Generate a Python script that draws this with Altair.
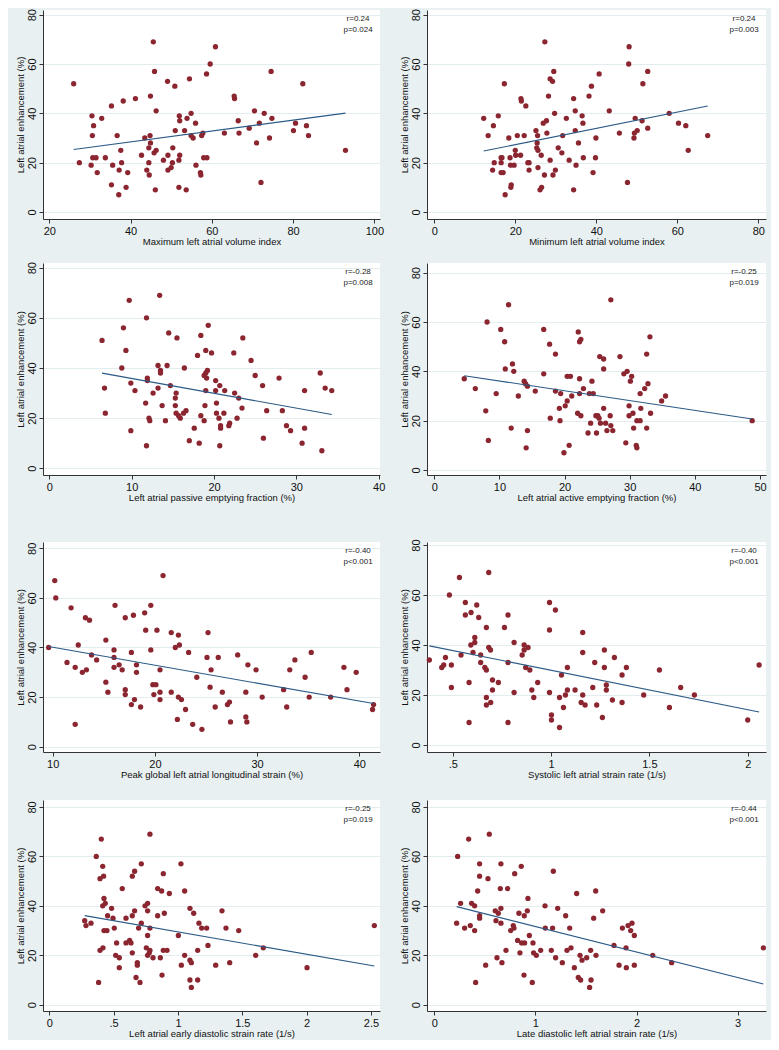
import altair as alt
import pandas as pd

# ---------------- data ----------------
x1 = [26.0,27.4,30.3,30.5,30.6,30.9,30.7,31.5,31.8,32.9,
      33.8,35.3,35.3,35.6,36.7,37.1,37.2,37.6,37.8,38.2,
      38.9,39.3,41.2,42.7,43.5,44.0,44.5,44.6,44.5,44.8,
      44.9,44.9,45.6,45.9,45.8,46.3,46.3,46.1,48.1,49.1,
      49.2,49.2,50.0,50.4,50.3,50.9,51.0,51.9,51.9,52.0,
      52.1,52.1,53.3,53.7,53.9,54.5,54.9,54.9,55.4,56.0,
      56.1,57.2,57.3,57.5,57.8,58.0,58.8,58.7,59.6,60.9,
      63.1,65.5,65.6,66.5,66.7,69.2,70.5,71.0,71.7,72.1,
      72.9,74.2,74.6,74.8,80.1,80.6,82.4,83.3,83.8,92.9]
y1 = [52,20,19,39,31,35,22,22,16,38, 22,43,11,19,31,7,17,25,20,45,
      10,16,46,23,30,17,20,15,26,31, 28,47,69,57,24,25,41,9,21,53,
      23,17,18,26,20,51,33,10,21,39, 37,23,33,9,38,54,40,31,30,36,
      19,16,15,31,32,22,22,56,60,67, 32,47,46,37,32,34,41,28,36,12,
      40,30,57,38,33,36,52,35,31,25]

x2 = [12.2,13.3,14.6,14.8,14.4,15.8,16.5,16.7,16.5,16.5,
      17.0,17.3,17.5,18.4,18.7,18.8,19.0,18.9,19.7,20.0,
      20.1,20.5,21.3,21.4,21.5,22.2,22.6,23.1,23.4,23.4,
      25.1,25.3,25.5,25.4,25.6,25.6,26.1,26.4,26.5,26.9,
      27.3,27.2,27.7,27.8,28.2,28.6,28.6,29.2,29.3,29.5,
      29.7,29.9,30.6,31.5,31.7,32.6,33.3,34.4,34.4,34.8,
      34.8,35.0,35.6,36.5,36.7,36.8,38.2,38.8,39.2,39.9,
      39.8,40.7,43.2,45.7,47.7,48.0,48.1,49.3,49.4,49.6,
      50.1,51.3,51.5,52.7,52.7,58.0,60.3,62.1,62.7,67.5]
y2 = [38,31,35,20,17,39,22,22,20,16, 16,52,7,30,22,19,11,10,19,25,
      23,31,23,46,45,31,43,20,20,17, 33,26,31,28,25,18,9,23,10,36,
      69,15,37,32,47,21,54,53,15,57, 40,17,26,24,31,38,21,9,46,41,
      33,19,28,39,36,22,47,51,16,30, 22,56,41,32,12,60,67,30,32,38,
      33,37,52,57,34,40,36,35,25,31]

x3 = [6.4,6.7,6.8,8.8,9.0,9.3,9.7,9.9,9.9,10.4,
      11.7,11.8,11.8,11.9,11.9,12.1,12.2,12.6,13.2,13.2,
      13.4,13.5,13.5,13.7,14.1,14.3,14.5,14.7,15.3,15.3,
      15.4,15.4,15.5,15.7,15.9,16.4,16.3,16.6,17.0,17.6,
      18.0,18.2,18.4,18.4,18.8,18.8,19.0,18.9,19.0,19.0,
      19.1,19.2,19.3,19.7,20.2,20.2,20.3,20.3,20.6,20.7,
      20.7,20.8,20.8,21.3,21.2,21.8,21.9,22.4,22.5,22.8,
      23.0,23.4,23.5,24.5,25.0,25.9,26.0,26.4,27.9,28.3,
      28.8,29.3,30.7,31.0,31.0,32.9,33.1,33.5,34.3]
y3 = [51,32,22,40,56,47,67,34,15,31, 26,60,9,36,35,20,19,30,32,41,
      69,39,38,25,19,41,54,33,28,25, 30,22,52,21,20,40,22,23,11,16,
      45,10,21,53,19,37,31,25,47,38, 36,39,57,46,35,31,26,22,20,33,
      9,17,16,31,22,17,18,46,30,20, 28,24,52,43,37,33,12,23,36,23,
      17,15,10,31,16,38,7,32,31]

x4 = [4.6,6.3,7.9,8.1,8.3,9.5,10.2,10.8,10.9,11.4,
      11.8,12.0,12.2,12.9,13.8,14.0,14.3,14.3,14.1,15.5,
      16.8,16.8,17.7,17.8,18.6,18.6,19.2,19.3,19.4,19.9,
      20.1,20.4,20.4,20.7,20.9,21.1,22.0,22.1,22.3,22.5,
      22.3,22.3,22.5,22.9,23.6,23.8,24.0,24.2,24.4,24.8,
      24.9,25.1,25.3,25.4,25.5,26.0,26.0,26.0,26.3,26.5,
      27.0,27.1,27.1,27.4,28.5,29.1,29.4,29.6,29.9,29.9,
      30.1,30.3,30.5,30.6,31.0,31.1,31.1,31.6,31.6,31.7,
      32.3,32.6,32.6,32.8,33.1,33.2,34.9,35.5,48.8]
y4 = [37,33,24,60,12,31,57,52,41,67, 17,43,40,30,36,35,34,16,9,32,
      39,57,51,21,47,32,25,20,31,7, 26,28,38,10,38,30,23,56,52,53,
      37,31,22,33,15,31,19,36,31,22, 15,22,21,46,19,45,41,25,19,16,
      22,18,69,16,46,39,11,40,26,22, 36,38,23,17,10,9,20,20,31,25,
      33,47,17,35,54,23,28,30,20]

x5 = [9.6,10.2,10.3,11.4,11.8,12.2,12.2,12.5,12.9,13.2,
      13.3,13.6,13.8,14.3,15.2,15.2,15.4,16.0,16.0,16.0,
      16.1,16.5,16.8,17.1,17.1,17.1,17.7,17.7,17.9,18.0,
      18.2,18.2,18.6,19.0,19.1,19.6,19.6,19.8,20.1,19.9,
      20.2,20.5,20.5,20.5,20.8,21.6,21.6,22.0,22.2,22.3,
      22.3,22.4,22.6,23.0,23.3,23.7,24.1,24.6,25.1,25.2,
      25.4,25.5,25.9,26.2,26.6,27.1,27.3,27.4,28.1,28.9,
      28.9,29.0,29.1,29.9,30.5,32.6,32.9,33.2,33.7,34.7,
      35.1,35.3,37.2,38.5,38.8,39.7,41.3,41.4]
y5 = [40,67,60,34,56,32,9,41,30,52, 31,51,37,35,43,26,22,39,36,32,
      57,33,31,52,23,21,38,17,53,19, 30,33,16,54,47,57,39,25,25,21,
      47,31,22,19,69,46,22,40,11,45, 20,41,19,15,38,9,28,7,36,46,
      24,31,16,36,22,17,18,10,37,22, 12,10,33,31,20,23,16,31,35,28,
      20,38,20,32,23,30,15,17]

x6 = [0.381,0.444,0.454,0.463,0.483,0.493,0.493,0.534,0.542,0.564,
      0.564,0.583,0.583,0.592,0.593,0.603,0.612,0.612,0.622,0.632,
      0.642,0.642,0.663,0.671,0.671,0.671,0.671,0.683,0.683,0.692,
      0.693,0.702,0.702,0.732,0.763,0.781,0.781,0.781,0.812,0.812,
      0.853,0.863,0.863,0.871,0.883,0.892,0.902,0.912,0.932,0.992,
      0.992,0.992,1.002,1.002,1.022,1.043,1.043,1.053,1.063,1.073,
      1.083,1.083,1.122,1.153,1.161,1.161,1.161,1.173,1.212,1.222,
      1.232,1.261,1.271,1.271,1.281,1.281,1.312,1.322,1.361,1.361,
      1.383,1.471,1.551,1.602,1.659,1.729,2.0,2.058]
y6 = [34,31,32,35,60,32,23,67,36,57, 52,25,9,40,53,37,43,41,56,51,
      36,33,31,30,47,19,16,69,39,38, 17,26,22,25,47,52,33,9,41,21,
      36,40,38,31,39,30,22,19,25,57, 46,21,12,10,54,7,19,28,15,20,
      31,22,22,17,45,37,20,16,23,33, 16,11,38,31,24,22,18,35,28,17,
      31,20,30,15,23,20,10,32]

x7 = [0.275,0.285,0.324,0.365,0.383,0.394,0.394,0.404,0.415,0.415,
      0.417,0.422,0.425,0.425,0.435,0.448,0.453,0.484,0.495,0.505,
      0.516,0.523,0.544,0.544,0.567,0.596,0.596,0.624,0.635,0.645,
      0.645,0.645,0.663,0.663,0.674,0.684,0.684,0.694,0.705,0.715,
      0.715,0.744,0.754,0.764,0.764,0.764,0.764,0.777,0.782,0.782,
      0.782,0.806,0.842,0.842,0.863,0.873,0.876,0.886,0.886,0.894,
      0.915,0.933,1.003,1.023,1.026,1.052,1.052,1.093,1.093,1.093,
      1.104,1.104,1.122,1.153,1.153,1.163,1.184,1.223,1.233,1.293,
      1.342,1.373,1.402,1.472,1.604,1.663,2.003,2.526]
y7 = [34,32,33,60,9,51,22,67,56,40, 23,52,43,30,41,30,36,39,35,31,
      20,25,19,15,47,35,25,26,25,36, 21,52,54,38,11,17,16,31,9,57,
      33,40,23,41,38,28,20,21,31,22, 69,19,47,36,19,46,12,53,22,37,
      22,45,28,57,16,46,20,39,18,10, 17,7,37,22,10,33,31,31,24,16,
      38,31,17,30,20,23,15,32]

x8 = [0.340,0.231,0.544,0.448,0.659,0.860,0.448,0.531,0.795,1.177,
      0.429,0.653,0.725,1.408,1.596,0.260,0.369,0.399,0.926,1.095,
      1.220,0.659,1.665,0.448,0.448,0.603,0.633,0.837,0.920,0.890,
      1.299,1.576,0.221,0.300,0.356,0.399,0.610,0.659,0.755,0.781,
      0.788,1.098,1.170,1.339,1.860,1.916,1.955,1.942,1.978,0.940,
      0.824,0.864,0.893,0.976,0.709,0.847,0.982,1.009,1.052,1.157,
      1.200,1.312,1.352,0.620,1.441,1.461,1.507,1.546,1.599,1.777,
      1.896,0.508,0.669,1.266,1.385,1.827,1.899,1.978,2.160,2.347,
      0.887,1.424,1.447,1.550,1.536,0.409,0.969,3.254]
y8 = [67,60,69,57,57,56,52,51,53,54, 46,47,47,45,46,41,41,40,43,40,
      39,39,38,36,35,38,37,37,38,36, 36,35,33,31,32,30,34,33,30,32,
      31,31,31,31,31,32,33,30,28,28, 26,25,25,25,22,21,21,20,22,22,
      19,22,23,19,20,18,19,22,20,24, 23,16,17,17,15,16,15,16,20,17,
      12,11,10,10,7,9,9,23]

xs_all = [x1, x2, x3, x4, x5, x6, x7, x8]
ys_all = [y1, y2, y3, y4, y5, y6, y7, y8]

x_titles = ["Maximum left atrial volume index",
            "Minimum left atrial volume index",
            "Left atrial passive emptying fraction (%)",
            "Left atrial active emptying fraction (%)",
            "Peak global left atrial longitudinal strain (%)",
            "Systolic left atrial strain rate (1/s)",
            "Left atrial early diastolic strain rate (1/s)",
            "Late diastolic left atrial strain rate (1/s)"]
y_title = "Left atrial enhancement (%)"
r_texts = ["r=0.24", "r=0.24", "r=-0.28", "r=-0.25", "r=-0.40", "r=-0.40", "r=-0.25", "r=-0.44"]
p_texts = ["p=0.024", "p=0.003", "p=0.008", "p=0.019", "p<0.001", "p<0.001", "p=0.019", "p<0.001"]
x_ticks = [[20, 40, 60, 80, 100], [0, 20, 40, 60, 80], [0, 10, 20, 30, 40],
           [0, 10, 20, 30, 40, 50], [10, 20, 30, 40], [0.5, 1, 1.5, 2],
           [0, 0.5, 1, 1.5, 2, 2.5], [0, 1, 2, 3]]
y_ticks = [0, 20, 40, 60, 80]

# ---------------- layout / scale settings ----------------
x_domains = [[18.45, 101.4], [-1.8, 81.9], [-0.77, 40.16], [-1.12, 50.92],
             [9.05, 42.03], [0.369, 2.093], [-0.049, 2.57], [-0.072, 3.28]]
y_domains = [[-2.84, 81.9], [-2.84, 81.9], [-2.67, 81.87], [-2.03, 83.93],
             [-2.14, 82.54], [-2.8, 81.2], [-2.55, 82.83], [-2.55, 82.83]]
col_w = [337, 339]
row_h = [209, 212, 210, 211]

RED = "#8B2631"
BLUE = "#2A5A86"
BG = "#E8F0F2"
FONT = "Liberation Sans"


def panel(i):
    w = col_w[i % 2]
    h = row_h[i // 2]
    df = pd.DataFrame({"x": xs_all[i], "y": ys_all[i]})
    if i in (5, 6):
        lab_expr = "replace(format(datum.value, '~g'), '0.', '.')"
    else:
        lab_expr = "format(datum.value, '~g')"
    xenc = alt.X("x:Q",
                 scale=alt.Scale(domain=x_domains[i], nice=False, zero=False),
                 axis=alt.Axis(values=x_ticks[i], title=x_titles[i], grid=False,
                               labelExpr=lab_expr))
    yenc = alt.Y("y:Q",
                 scale=alt.Scale(domain=y_domains[i], nice=False, zero=False),
                 axis=alt.Axis(values=y_ticks, title=y_title, grid=True,
                               labelAngle=270, labelAlign="center",
                               labelBaseline="bottom"))
    base = alt.Chart(df)
    pts = base.mark_circle(size=28, color=RED, opacity=1).encode(x=xenc, y=yenc)
    line = base.transform_regression("x", "y").mark_line(
        color=BLUE, strokeWidth=1.1).encode(x="x:Q", y="y:Q")
    t_r = alt.Chart(pd.DataFrame({"t": [r_texts[i]]})).mark_text(
        fontSize=8, font=FONT, color="#222", align="center", baseline="middle"
    ).encode(text="t:N", x=alt.value(w - 22), y=alt.value(9))
    t_p = alt.Chart(pd.DataFrame({"t": [p_texts[i]]})).mark_text(
        fontSize=8, font=FONT, color="#222", align="center", baseline="middle"
    ).encode(text="t:N", x=alt.value(w - 22), y=alt.value(20))
    return alt.layer(pts, line, t_r, t_p).properties(width=w, height=h)


panels = [panel(i) for i in range(8)]
rows = [alt.hconcat(panels[2 * r], panels[2 * r + 1], spacing=47, bounds="flush")
        for r in range(4)]
top = alt.vconcat(rows[0], rows[1], spacing=15)
bottom = alt.vconcat(rows[2], rows[3], spacing=21)
chart = alt.vconcat(top, bottom, spacing=36)

chart = chart.configure(
    background=BG, font=FONT,
    padding={"left": 7, "top": 0, "right": 4, "bottom": 2}
).configure_view(
    fill="white", strokeWidth=0
).configure_axis(
    domainColor="#333333", domainWidth=1, tickColor="#333333", tickSize=4,
    tickWidth=1, labelFontSize=11, labelColor="#111111", labelPadding=2,
    titleFontSize=9.5, titleFontWeight="normal", titleColor="#111111",
    gridColor="#E3ECEE", gridWidth=1, labelFlush=False,
    labelOverlap=False, labelFont=FONT, titleFont=FONT
).configure_axisX(
    titlePadding=0
).configure_axisY(
    titlePadding=1
)

chart.save("out.html", embed_options={"renderer": "svg", "actions": False})
